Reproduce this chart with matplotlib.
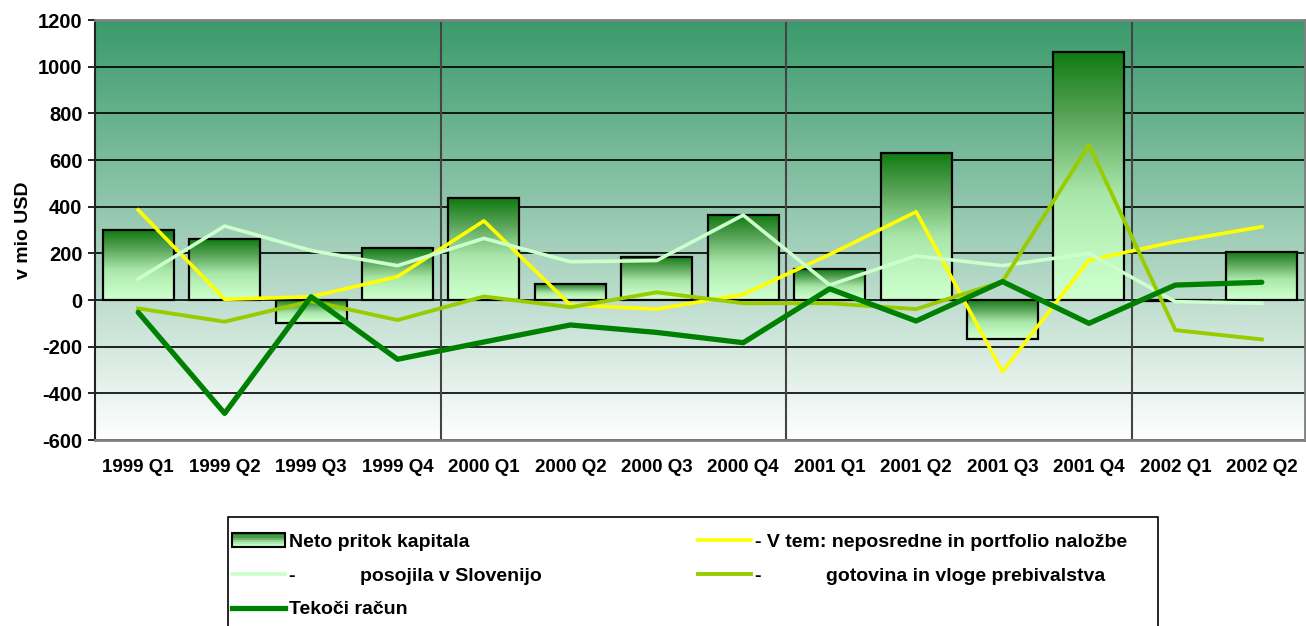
import numpy as np
import matplotlib
matplotlib.use("Agg")
import matplotlib.pyplot as plt
from matplotlib.colors import LinearSegmentedColormap
from matplotlib.legend_handler import HandlerBase
from matplotlib.patches import Rectangle, Patch
from matplotlib.lines import Line2D

plt.rcParams['font.family'] = ['Liberation Sans', 'DejaVu Sans']
plt.rcParams['font.weight'] = 'bold'
plt.rcParams['axes.unicode_minus'] = False

# data (mio USD)
cats = ['1999 Q1', '1999 Q2', '1999 Q3', '1999 Q4', '2000 Q1', '2000 Q2', '2000 Q3',
        '2000 Q4', '2001 Q1', '2001 Q2', '2001 Q3', '2001 Q4', '2002 Q1', '2002 Q2']
neto = [300, 260, -100, 222, 437, 69, 185, 363, 132, 632, -169, 1063, -5, 207]
vtem = [386, 3, 14, 100, 339, -21, -39, 24, 195, 378, -307, 171, 250, 314]
posojila = [90, 317, 212, 147, 264, 164, 169, 364, 64, 189, 147, 200, -7, -14]
gotovina = [-36, -93, -5, -86, 15, -31, 33, -14, -14, -39, 79, 664, -129, -169]
tekoci = [-53, -486, 14, -254, -180, -107, -139, -183, 48, -90, 79, -100, 64, 76]
yticks = list(range(-600, 1201, 200))

bar_cmap = LinearSegmentedColormap.from_list('bar', ['#ccffcc', '#a8e6a8', '#5aa55a', '#0f7a0f'])
bg_cmap = LinearSegmentedColormap.from_list('bg', ['#ffffff', '#3a9a6b'])

W, H = 1306, 626
fig = plt.figure(figsize=(W / 100, H / 100), dpi=100)
ax = fig.add_axes([95 / W, 1 - 440 / H, 1210 / W, 420 / H])

x = np.arange(len(cats))

# background gradient
bg = np.linspace(0, 1, 256).reshape(-1, 1)
ax.imshow(bg, extent=[0, 1, 0, 1], transform=ax.transAxes, aspect='auto',
          cmap=bg_cmap, origin='lower', zorder=0)

for v in yticks:
    ax.axhline(v, color='black', lw=1.2, zorder=1)
for xv in [3.5, 7.5, 11.5]:
    ax.axvline(xv, color='#444444', lw=1.5, zorder=1)

# bars with vertical gradient
bars = ax.bar(x, neto, width=0.82, facecolor='none', edgecolor='black', lw=1.6, zorder=3)
grad = np.linspace(0, 1, 256).reshape(-1, 1) ** 1.3
for b in bars:
    x0, w = b.get_x(), b.get_width()
    y0, y1 = sorted([b.get_y(), b.get_y() + b.get_height()])
    ax.imshow(grad, extent=[x0, x0 + w, y0, y1], aspect='auto', cmap=bar_cmap,
              origin='lower', zorder=2.9)

ax.plot(x, vtem, color='#ffff00', lw=2.6, zorder=4)
ax.plot(x, posojila, color='#ccffcc', lw=2.6, zorder=4)
ax.plot(x, gotovina, color='#99cc00', lw=2.8, zorder=4)
ax.plot(x, tekoci, color='#008000', lw=3.8, zorder=5, solid_capstyle='round')

ax.set_xlim(-0.5, len(cats) - 0.5)
ax.set_ylim(-600, 1200)
ax.set_yticks(yticks)
ax.set_xticks(x)
ax.set_xticklabels(cats, fontsize=13.5, fontweight='bold')
ax.tick_params(axis='x', length=0, pad=14)
ax.tick_params(axis='y', length=5, width=1.2, labelsize=14.5, pad=4)
for lab in ax.get_yticklabels():
    lab.set_fontweight('bold')
ax.set_ylabel('v mio USD', fontsize=14, fontweight='bold', labelpad=4)
for s in ['top', 'right', 'bottom']:
    ax.spines[s].set_color('#808080')
    ax.spines[s].set_linewidth(2)
ax.spines['left'].set_color('#222222')
ax.spines['left'].set_linewidth(1.5)


class GradHandler(HandlerBase):
    def create_artists(self, legend, orig, xd, yd, w, h, fontsize, trans):
        arts = []
        n = 6
        for i in range(n):
            arts.append(Rectangle((xd, yd + h * i / n), w, h / n,
                                  facecolor=bar_cmap((i + 0.5) / n), edgecolor='none',
                                  transform=trans))
        arts.append(Rectangle((xd, yd), w, h, fill=False, edgecolor='black',
                              lw=1.5, transform=trans))
        return arts


sp = ' ' * 12
h_neto = Patch()
h_vtem = Line2D([], [], color='#ffff00', lw=2.6)
h_pos = Line2D([], [], color='#ccffcc', lw=2.6)
h_got = Line2D([], [], color='#99cc00', lw=2.8)
h_tek = Line2D([], [], color='#008000', lw=3.8)
handles = [h_neto, h_pos, h_tek, h_vtem, h_got]
labels = ['Neto pritok kapitala', '-' + sp + 'posojila v Slovenijo', 'Tekoči račun',
          '- V tem: neposredne in portfolio naložbe', '-' + sp + 'gotovina in vloge prebivalstva']
leg = fig.legend(handles, labels, ncol=2, loc='upper left',
                 bbox_to_anchor=(232 / W, 1 - 533 / H), frameon=False,
                 handlelength=2.75, handletextpad=0.2,
                 columnspacing=8.0, labelspacing=0.84, borderpad=0, borderaxespad=0,
                 handler_map={Patch: GradHandler()},
                 prop={'weight': 'bold', 'size': 14})

# legend frame, open at the bottom edge of the picture
fig.patches.append(Rectangle((228 / W, -0.05), 930 / W, 0.05 + 1 - 517 / H,
                             transform=fig.transFigure, fill=False,
                             edgecolor='black', lw=1.2))

fig.savefig('out.png', dpi=100)
